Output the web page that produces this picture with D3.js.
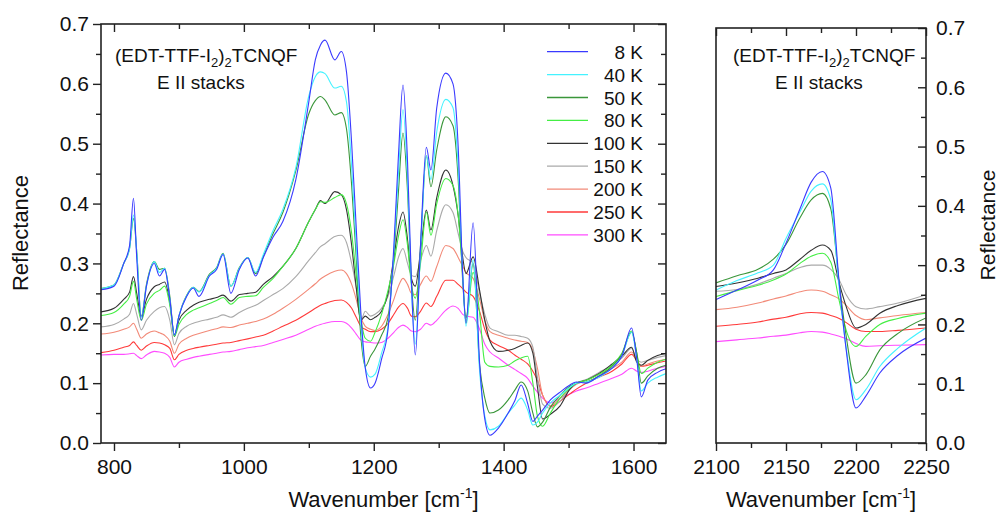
<!DOCTYPE html>
<html><head><meta charset="utf-8">
<script src="https://cdn.jsdelivr.net/npm/d3@7/dist/d3.min.js"></script>
<style>body{margin:0;background:#fff}svg{display:block}text{font-family:"Liberation Sans",Arial,sans-serif;fill:#111}</style>
</head><body><svg id="c" width="1002" height="513"></svg>
<script>
// ---------- DATA ----------
const seriesNames = ["8 K","40 K","50 K","80 K","100 K","150 K","200 K","250 K","300 K"];
const seriesColors = ["#3a3aff","#44f2ff","#3a963a","#44ee44","#333333","#aaaaaa","#f28a78","#ff3a3a","#ff4cff"];

const wnLeft = [780,800,815,824,830,835,842,850,862,870,878,886,893,900,912,922,931,947,958,968,
 980,993,1006,1018,1030,1045,1060,1080,1100,1110,1118,1125,1140,1150,1158,1166,1173,1180,1187,1195,
 1202,1212,1222,1231,1238,1245,1252,1258,1264,1272,1281,1288,1297,1311,1322,1330,1337,1342,1353,1363,
 1371,1379,1392,1407,1417,1427,1437,1445,1452,1460,1472,1487,1502,1512,1527,1547,1567,1582,1597,1605,
 1612,1622,1637,1650];

const left8K = [0.256,0.262,0.30,0.33,0.409,0.31,0.205,0.262,0.30,0.279,
 0.29,0.24,0.181,0.212,0.245,0.259,0.245,0.279,0.29,0.315,
 0.25,0.29,0.309,0.279,0.31,0.344,0.37,0.44,0.57,0.64,
 0.665,0.673,0.64,0.654,0.62,0.5,0.36,0.22,0.125,0.092,
 0.1,0.14,0.19,0.33,0.48,0.598,0.47,0.27,0.147,0.33,
 0.494,0.456,0.56,0.618,0.6,0.495,0.28,0.2,0.368,0.133,
 0.04,0.013,0.025,0.05,0.07,0.097,0.066,0.036,0.045,0.055,
 0.072,0.085,0.097,0.102,0.1,0.112,0.125,0.145,0.192,0.14,
 0.077,0.105,0.118,0.124];
const left40K = [0.258,0.264,0.30,0.325,0.381,0.32,0.21,0.262,0.303,0.285,
 0.292,0.24,0.18,0.212,0.246,0.26,0.252,0.28,0.292,0.316,
 0.262,0.292,0.31,0.285,0.315,0.355,0.39,0.46,0.58,0.612,
 0.62,0.617,0.593,0.596,0.57,0.46,0.33,0.2,0.125,0.11,
 0.115,0.15,0.195,0.32,0.45,0.557,0.44,0.26,0.165,0.32,
 0.48,0.44,0.52,0.574,0.56,0.46,0.28,0.195,0.306,0.12,
 0.045,0.022,0.028,0.05,0.063,0.075,0.055,0.03,0.035,0.05,
 0.067,0.08,0.093,0.1,0.102,0.11,0.125,0.145,0.185,0.14,
 0.087,0.1,0.11,0.116];
const left50K = [0.258,0.264,0.30,0.325,0.375,0.32,0.211,0.265,0.303,0.29,
 0.292,0.245,0.178,0.212,0.247,0.26,0.253,0.282,0.293,0.317,
 0.262,0.293,0.31,0.283,0.312,0.35,0.385,0.455,0.55,0.572,
 0.579,0.573,0.548,0.552,0.525,0.43,0.31,0.18,0.128,0.145,
 0.157,0.18,0.21,0.31,0.42,0.518,0.42,0.27,0.205,0.33,
 0.48,0.428,0.49,0.545,0.53,0.44,0.27,0.209,0.3,0.13,
 0.075,0.05,0.055,0.072,0.088,0.102,0.087,0.05,0.027,0.035,
 0.06,0.08,0.095,0.1,0.102,0.112,0.128,0.148,0.185,0.15,
 0.1,0.112,0.125,0.13];
const left80K = [0.213,0.218,0.232,0.245,0.27,0.24,0.205,0.232,0.25,0.255,
 0.262,0.23,0.178,0.198,0.215,0.222,0.226,0.233,0.238,0.243,
 0.232,0.243,0.245,0.246,0.26,0.275,0.295,0.325,0.37,0.39,
 0.403,0.402,0.41,0.415,0.4,0.35,0.28,0.21,0.175,0.17,
 0.185,0.215,0.255,0.3,0.345,0.373,0.33,0.265,0.242,0.3,
 0.386,0.347,0.4,0.442,0.43,0.38,0.28,0.2,0.285,0.217,
 0.135,0.128,0.127,0.13,0.137,0.142,0.145,0.1,0.045,0.028,
 0.05,0.075,0.092,0.1,0.105,0.115,0.13,0.15,0.187,0.15,
 0.116,0.125,0.135,0.14];
const left100K = [0.219,0.225,0.24,0.252,0.278,0.25,0.211,0.24,0.261,0.265,
 0.269,0.235,0.18,0.205,0.222,0.23,0.235,0.24,0.243,0.247,
 0.237,0.248,0.25,0.252,0.265,0.278,0.295,0.325,0.37,0.39,
 0.405,0.4,0.42,0.415,0.39,0.33,0.26,0.205,0.212,0.206,
 0.21,0.22,0.25,0.31,0.36,0.386,0.34,0.275,0.262,0.32,
 0.389,0.356,0.41,0.456,0.43,0.38,0.31,0.283,0.311,0.255,
 0.205,0.17,0.153,0.155,0.158,0.163,0.167,0.15,0.094,0.04,
 0.048,0.062,0.09,0.1,0.105,0.116,0.132,0.145,0.16,0.135,
 0.13,0.138,0.146,0.15];
const left150K = [0.194,0.198,0.207,0.215,0.233,0.215,0.189,0.205,0.22,0.226,
 0.228,0.205,0.164,0.183,0.195,0.2,0.203,0.207,0.21,0.214,
 0.21,0.218,0.225,0.23,0.238,0.248,0.258,0.278,0.305,0.318,
 0.328,0.333,0.345,0.347,0.335,0.3,0.26,0.205,0.22,0.212,
 0.215,0.225,0.245,0.28,0.31,0.325,0.3,0.28,0.278,0.305,
 0.33,0.312,0.355,0.398,0.385,0.35,0.32,0.31,0.3,0.25,
 0.215,0.192,0.186,0.18,0.18,0.178,0.175,0.16,0.11,0.065,
 0.058,0.07,0.09,0.1,0.106,0.118,0.13,0.142,0.158,0.14,
 0.135,0.138,0.143,0.146];
const left200K = [0.182,0.185,0.19,0.194,0.2,0.19,0.175,0.182,0.187,0.184,
 0.18,0.17,0.15,0.165,0.175,0.18,0.183,0.188,0.191,0.194,
 0.193,0.197,0.2,0.203,0.207,0.215,0.225,0.24,0.257,0.266,
 0.274,0.279,0.287,0.289,0.283,0.265,0.24,0.21,0.195,0.19,
 0.188,0.195,0.215,0.24,0.262,0.275,0.265,0.25,0.248,0.265,
 0.279,0.27,0.295,0.33,0.325,0.31,0.295,0.285,0.275,0.24,
 0.205,0.186,0.18,0.175,0.172,0.17,0.168,0.155,0.125,0.08,
 0.062,0.075,0.09,0.098,0.105,0.115,0.125,0.135,0.152,0.138,
 0.128,0.132,0.137,0.14];
const left250K = [0.151,0.155,0.16,0.163,0.169,0.163,0.155,0.162,0.168,0.167,
 0.164,0.158,0.139,0.148,0.155,0.158,0.16,0.163,0.165,0.167,
 0.168,0.171,0.174,0.177,0.18,0.187,0.195,0.205,0.218,0.225,
 0.23,0.233,0.238,0.239,0.235,0.225,0.21,0.195,0.19,0.186,
 0.186,0.19,0.2,0.215,0.227,0.233,0.225,0.212,0.211,0.22,
 0.234,0.228,0.245,0.272,0.272,0.265,0.258,0.252,0.245,0.22,
 0.19,0.172,0.163,0.155,0.147,0.14,0.132,0.12,0.105,0.08,
 0.061,0.07,0.082,0.09,0.1,0.11,0.12,0.132,0.148,0.138,
 0.128,0.13,0.134,0.137];
const left300K = [0.147,0.148,0.148,0.149,0.15,0.146,0.141,0.147,0.153,0.152,
 0.15,0.143,0.127,0.135,0.14,0.143,0.145,0.148,0.15,0.152,
 0.153,0.156,0.159,0.161,0.163,0.168,0.173,0.18,0.19,0.195,
 0.198,0.2,0.203,0.203,0.2,0.192,0.182,0.172,0.169,0.168,
 0.167,0.168,0.175,0.185,0.193,0.197,0.193,0.187,0.186,0.19,
 0.2,0.197,0.205,0.222,0.229,0.225,0.215,0.212,0.21,0.19,
 0.165,0.152,0.142,0.13,0.123,0.116,0.108,0.095,0.085,0.075,
 0.067,0.075,0.082,0.087,0.092,0.1,0.108,0.115,0.125,0.12,
 0.118,0.12,0.125,0.128];

const wnRight = [2100,2115,2130,2141,2150,2160,2168,2176,2182,2188,2193,2200,2207,2217,2230,2250];
const right8K   = [0.242,0.258,0.275,0.292,0.337,0.395,0.44,0.458,0.43,0.27,0.157,0.059,0.079,0.118,0.148,0.177];
const right40K  = [0.258,0.274,0.287,0.3,0.345,0.39,0.425,0.437,0.41,0.26,0.16,0.073,0.09,0.129,0.16,0.194];
const right50K  = [0.27,0.282,0.293,0.31,0.335,0.38,0.41,0.421,0.395,0.27,0.18,0.101,0.115,0.157,0.185,0.211];
const right80K  = [0.247,0.257,0.266,0.275,0.285,0.303,0.315,0.32,0.305,0.24,0.19,0.163,0.18,0.2,0.21,0.219];
const right100K = [0.264,0.27,0.278,0.286,0.292,0.31,0.325,0.334,0.325,0.27,0.23,0.194,0.2,0.219,0.232,0.244];
const right150K = [0.256,0.259,0.268,0.278,0.286,0.296,0.3,0.3,0.293,0.275,0.25,0.23,0.226,0.23,0.236,0.25];
const right200K = [0.225,0.229,0.236,0.243,0.248,0.255,0.258,0.256,0.25,0.243,0.232,0.215,0.208,0.211,0.215,0.22];
const right250K = [0.197,0.2,0.204,0.209,0.212,0.218,0.22,0.219,0.215,0.21,0.203,0.192,0.188,0.188,0.19,0.194];
const right300K = [0.171,0.174,0.177,0.18,0.182,0.186,0.188,0.187,0.184,0.18,0.176,0.168,0.163,0.164,0.165,0.166];

const leftXTicks = [800,1000,1200,1400,1600];
const leftXMinor = [900,1100,1300,1500];
const rightXTicks = [2100,2150,2200,2250];
const rightXMinor = [2125,2175,2225];
const yTicks = [0.0,0.1,0.2,0.3,0.4,0.5,0.6,0.7];
const yMinor = [0.05,0.15,0.25,0.35,0.45,0.55,0.65];

const leftSeries = [left8K,left40K,left50K,left80K,left100K,left150K,left200K,left250K,left300K];
const rightSeries = [right8K,right40K,right50K,right80K,right100K,right150K,right200K,right250K,right300K];

// ---------- DRAW ----------
const svg = d3.select("#c");
svg.append("rect").attr("width",1002).attr("height",513).attr("fill","#fff");
const defs = svg.append("defs");
const fmt = d3.format(".1f");

function panel(cfg){
  const x = d3.scaleLinear().domain(cfg.xd).range([cfg.x0,cfg.x1]);
  const y = d3.scaleLinear().domain([0,0.7]).range([cfg.y1,cfg.y0]);
  const id = "clip"+cfg.name;
  defs.append("clipPath").attr("id",id).append("rect")
    .attr("x",cfg.x0).attr("y",cfg.y0).attr("width",cfg.x1-cfg.x0).attr("height",cfg.y1-cfg.y0);
  const line = d3.line().x(d=>x(d[0])).y(d=>y(d[1])).curve(d3.curveMonotoneX);
  const g = svg.append("g").attr("clip-path",`url(#${id})`);
  for(let i=cfg.series.length-1;i>=0;i--){
    const vals = cfg.series[i];
    const pts = cfg.wn.map((w,j)=>[w,vals[j]]).filter(d=>d[1]!==undefined);
    g.append("path").attr("d",line(pts)).attr("fill","none")
      .attr("stroke",seriesColors[i]).attr("stroke-width",1.1);
  }
  const ax = (gen, tr, labels) => {
    const a = svg.append("g").attr("transform",tr).call(gen);
    a.select(".domain").remove();
    a.selectAll("line").attr("stroke","#222").attr("stroke-width",1.4);
    a.selectAll("text").style("font-family","'Liberation Sans',Arial,sans-serif").attr("font-size",21).attr("fill","#111");
    if(!labels) a.selectAll("text").remove();
    return a;
  };
  ax(d3.axisBottom(x).tickValues(cfg.xt).tickSize(8).tickPadding(8).tickFormat(d3.format("d")),`translate(0,${cfg.y1})`,true);
  ax(d3.axisBottom(x).tickValues(cfg.xm).tickSize(5),`translate(0,${cfg.y1})`,false);
  ax(d3.axisTop(x).tickValues(cfg.xt).tickSize(-8),`translate(0,${cfg.y0})`,false);
  ax(d3.axisTop(x).tickValues(cfg.xm).tickSize(-5),`translate(0,${cfg.y0})`,false);
  if(cfg.name==="L"){
    ax(d3.axisLeft(y).tickValues(yTicks).tickSize(8).tickPadding(4).tickFormat(fmt),`translate(${cfg.x0},0)`,true);
    ax(d3.axisLeft(y).tickValues(yMinor).tickSize(5),`translate(${cfg.x0},0)`,false);
    ax(d3.axisRight(y).tickValues(yTicks).tickSize(-8),`translate(${cfg.x1},0)`,false);
    ax(d3.axisRight(y).tickValues(yMinor).tickSize(-5),`translate(${cfg.x1},0)`,false);
  } else {
    ax(d3.axisRight(y).tickValues(yTicks).tickSize(-8).tickPadding(10).tickFormat(fmt),`translate(${cfg.x1},0)`,true);
    ax(d3.axisRight(y).tickValues(yMinor).tickSize(-5),`translate(${cfg.x1},0)`,false);
  }
  svg.append("rect").attr("x",cfg.x0).attr("y",cfg.y0).attr("width",cfg.x1-cfg.x0).attr("height",cfg.y1-cfg.y0)
    .attr("fill","none").attr("stroke","#222").attr("stroke-width",1.6);

  const t = svg.append("text").attr("x",(cfg.x0+cfg.x1)/2).attr("y",507).attr("text-anchor","middle").attr("font-size",22);
  t.append("tspan").text("Wavenumber [cm");
  t.append("tspan").attr("dy",-9).attr("font-size",14).text("-1");
  t.append("tspan").attr("dy",9).text("]");

  const a1 = svg.append("text").attr("x",cfg.ax).attr("y",62).attr("font-size",19);
  a1.append("tspan").text("(EDT-TTF-I");
  a1.append("tspan").attr("dy",5).attr("font-size",13).text("2");
  a1.append("tspan").attr("dy",-5).text(")");
  a1.append("tspan").attr("dy",5).attr("font-size",13).text("2");
  a1.append("tspan").attr("dy",-5).text("TCNQF");
  svg.append("text").attr("x",cfg.bx).attr("y",89).attr("font-size",19).text("E II stacks");
  return {x,y};
}

panel({name:"L",x0:101,x1:666,y0:24,y1:443,xd:[780,1650],wn:wnLeft,series:leftSeries,
  xt:leftXTicks,xm:leftXMinor,ax:115,bx:157});
panel({name:"R",x0:716,x1:926,y0:28,y1:443,xd:[2100,2250],wn:wnRight,series:rightSeries,
  xt:rightXTicks,xm:rightXMinor,ax:733,bx:775});

// y titles
svg.append("text").attr("transform","translate(28,233) rotate(-90)").attr("text-anchor","middle").attr("font-size",22).text("Reflectance");
svg.append("text").attr("transform","translate(995,225) rotate(-90)").attr("text-anchor","middle").attr("font-size",21).text("Reflectance");

// legend
const lg = svg.append("g");
seriesNames.forEach((n,i)=>{
  const yy = 51.7 + i*22.9;
  lg.append("line").attr("x1",547).attr("x2",588).attr("y1",yy).attr("y2",yy)
    .attr("stroke",seriesColors[i]).attr("stroke-width",1.3);
  lg.append("text").attr("x",643).attr("y",yy+7).attr("text-anchor","end").attr("font-size",19).text(n);
});
</script></body></html>
